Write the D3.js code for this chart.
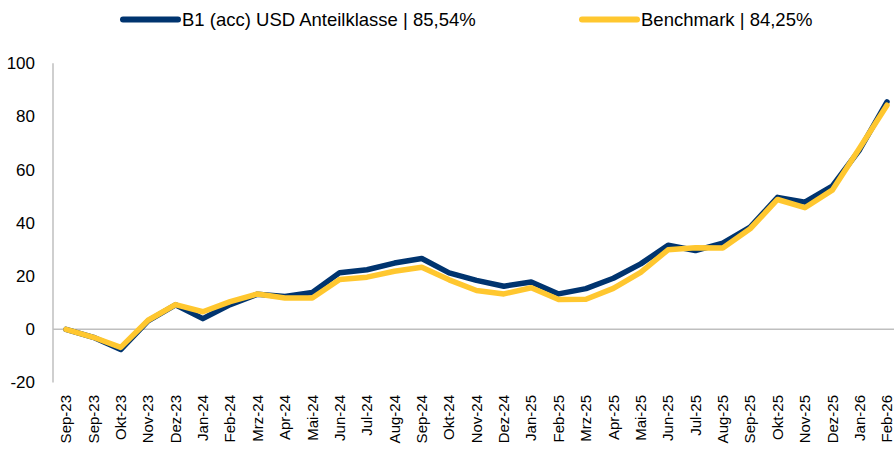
<!DOCTYPE html>
<html>
<head>
<meta charset="utf-8">
<script src="https://cdn.jsdelivr.net/npm/d3@7"></script>
<style>
  html, body { margin: 0; padding: 0; background: #fff; }
  svg { display: block; font-family: "Liberation Sans", Arial, sans-serif; }
</style>
</head>
<body>
<div id="chart"></div>
<script>
// Monthly categories (first label repeats in the source)
var months = ["Sep-23", "Sep-23", "Okt-23", "Nov-23", "Dez-23", "Jan-24", "Feb-24", "Mrz-24",
    "Apr-24", "Mai-24", "Jun-24", "Jul-24", "Aug-24", "Sep-24", "Okt-24", "Nov-24", "Dez-24",
    "Jan-25", "Feb-25", "Mrz-25", "Apr-25", "Mai-25", "Jun-25", "Jul-25", "Aug-25", "Sep-25",
    "Okt-25", "Nov-25", "Dez-25", "Jan-26", "Feb-26"];

// Cumulative performance, %
var fundValues = [0, -3, -7.6, 3.2, 9.2, 4.0, 9.3, 13.2, 12.3, 13.8, 21.3, 22.4, 24.9, 26.6,
    21.2, 18.4, 16.2, 17.8, 13.3, 15.3, 19.2, 24.6, 31.6, 29.6, 32.4, 38.4, 49.6, 47.8,
    53.8, 67.5, 85.54];
var benchValues = [0, -3, -6.8, 3.4, 9.3, 6.6, 10.4, 13.3, 11.8, 11.8, 18.7, 19.6, 21.8, 23.3,
    18.6, 14.6, 13.3, 15.6, 11.2, 11.3, 15.4, 21.4, 29.9, 30.7, 30.6, 37.8, 48.8, 45.7,
    52.3, 68.2, 84.25];

var yTicks = [-20, 0, 20, 40, 60, 80, 100];

var seriesNames = ["B1 (acc) USD Anteilklasse | 85,54%", "Benchmark | 84,25%"];
var seriesColors = ["#00346F", "#FFC72F"];

var W = 894, H = 454;
var plotLeft = 53, plotRight = 894;

var svg = d3.select("#chart").append("svg")
    .attr("width", W)
    .attr("height", H);

var x = d3.scalePoint()
    .domain(d3.range(months.length))
    .range([66, 887]);

var y = d3.scaleLinear()
    .domain([-20, 100])
    .range([382.5, 63.3]);

// Y axis line
svg.append("line")
    .attr("x1", plotLeft).attr("x2", plotLeft)
    .attr("y1", y(100)).attr("y2", y(-20))
    .attr("stroke", "#BFBFBF")
    .attr("stroke-width", 1.5);

// Zero line
svg.append("line")
    .attr("x1", plotLeft).attr("x2", plotRight)
    .attr("y1", y(0)).attr("y2", y(0))
    .attr("stroke", "#BFBFBF")
    .attr("stroke-width", 1.5);

// Y tick labels
svg.append("g")
    .selectAll("text")
    .data(yTicks)
    .join("text")
    .attr("x", 35)
    .attr("y", function (d) { return y(d); })
    .attr("dy", "0.35em")
    .attr("text-anchor", "end")
    .attr("font-size", 17)
    .attr("fill", "#000")
    .text(function (d) { return d; });

// X tick labels, rotated
svg.append("g")
    .selectAll("text")
    .data(months)
    .join("text")
    .attr("transform", function (d, i) {
        return "translate(" + x(i) + ",395) rotate(-90)";
    })
    .attr("dy", "0.35em")
    .attr("text-anchor", "end")
    .attr("font-size", 15)
    .attr("fill", "#000")
    .text(function (d) { return d; });

// Lines
var line = d3.line()
    .x(function (d, i) { return x(i); })
    .y(function (d) { return y(d); });

[fundValues, benchValues].forEach(function (vals, k) {
    svg.append("path")
        .datum(vals)
        .attr("d", line)
        .attr("fill", "none")
        .attr("stroke", seriesColors[k])
        .attr("stroke-width", 5.5)
        .attr("stroke-linejoin", "round")
        .attr("stroke-linecap", "round");
});

// Legend
var legendX = [123, 582];
var legend = svg.append("g");
seriesNames.forEach(function (name, k) {
    legend.append("line")
        .attr("x1", legendX[k]).attr("x2", legendX[k] + 55)
        .attr("y1", 19.5).attr("y2", 19.5)
        .attr("stroke", seriesColors[k])
        .attr("stroke-width", 6)
        .attr("stroke-linecap", "round");
    legend.append("text")
        .attr("x", legendX[k] + 59)
        .attr("y", 19.5)
        .attr("dy", "0.35em")
        .attr("font-size", 18.5)
        .attr("fill", "#000")
        .text(name);
});
</script>
</body>
</html>
